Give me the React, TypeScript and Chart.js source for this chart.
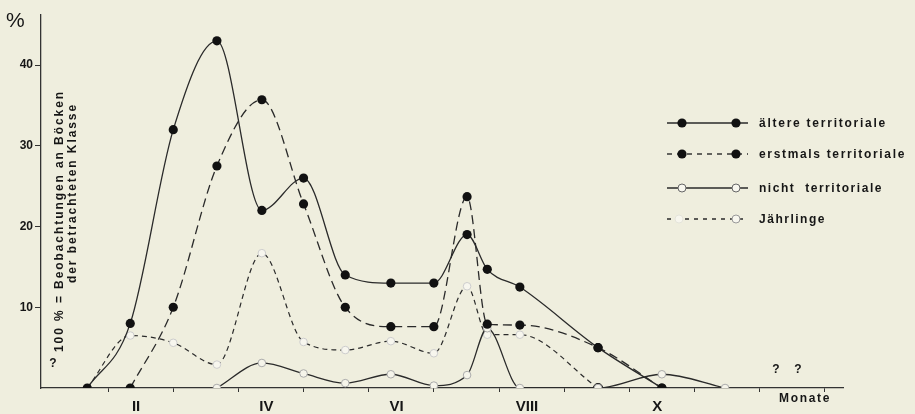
import React, { useEffect, useRef } from 'react';
import { Chart, registerables } from 'chart.js';

Chart.register(...registerables);

// ---- data ----
const xPositions = [0.68, 1.34, 2.0, 2.67, 3.36, 4.0, 4.64, 5.34, 6.0, 6.51, 6.82, 7.32, 8.52, 9.5, 10.47];
const aeltere = [0, 8, 32, 43, 22, 26, 14, 13, 13, 19, 14.7, 12.5, 5, 0, null];
const erstmals = [null, 0, 10, 27.5, 35.7, 22.8, 10, 7.6, 7.6, 23.7, 7.9, 7.8, 5, 0, null];
const nicht = [null, null, null, 0, 3.1, 1.8, 0.6, 1.7, 0.3, 1.6, 7.4, 0, 0, 1.7, 0];
const jaehrlinge = [0, 6.5, 5.6, 2.9, 16.7, 5.7, 4.7, 5.8, 4.3, 12.6, 6.6, 6.6, 0, null, null];
const jaehrlingeFilledIndex = [12];

const seriesNames = ['ältere territoriale', 'erstmals territoriale', 'nicht  territoriale', 'Jährlinge'];
const monthTickValues = [1, 3, 5, 7, 9];
const monthLabels = ['II', 'IV', 'VI', 'VIII', 'X'];
const xTickValues = [1, 2, 3, 4, 5, 6, 7, 8, 9, 10, 11, 12];
const yTickValues = [10, 20, 30, 40];
const yTitle1 = '100 % = Beobachtungen an Böcken';
const yTitle2 = 'der betrachteten Klasse';
const xTitle = 'Monate';

const FONT = "'Liberation Sans', Arial, sans-serif";
const BG = '#efeede';
const INK = '#161616';
const LINE = '#2a2a2a';

const toPoints = (ys: (number | null)[]) => xPositions.map((x, i) => ({ x, y: ys[i] }));

function fitText(ctx: CanvasRenderingContext2D, text: string, x: number, y: number, target: number) {
  (ctx as any).letterSpacing = '0px';
  const w = ctx.measureText(text).width;
  const sp = Math.max(0, (target - w) / text.length);
  (ctx as any).letterSpacing = sp + 'px';
  ctx.fillText(text, x, y);
  (ctx as any).letterSpacing = '0px';
}

const decorPlugin = {
  id: 'decor',
  afterDraw(chart: any) {
    const ctx: CanvasRenderingContext2D = chart.ctx;
    ctx.save();
    ctx.fillStyle = INK;
    ctx.textBaseline = 'middle';

    // "%" unit at top-left
    ctx.font = `21px ${FONT}`;
    ctx.textAlign = 'left';
    ctx.fillText('%', 6, 21);

    // rotated y-axis titles
    ctx.font = `bold 12px ${FONT}`;
    ctx.save();
    ctx.translate(60, 352);
    ctx.rotate(-Math.PI / 2);
    ctx.textAlign = 'left';
    fitText(ctx, yTitle1, 0, 0, 262);
    ctx.restore();
    ctx.save();
    ctx.translate(73, 283);
    ctx.rotate(-Math.PI / 2);
    ctx.textAlign = 'left';
    fitText(ctx, yTitle2, 0, 0, 180);
    ctx.restore();

    // question marks
    ctx.font = `bold 12px ${FONT}`;
    ctx.textAlign = 'center';
    ctx.fillText('?', 53, 364);
    ctx.fillText('?', 776, 370);
    ctx.fillText('?', 798, 370);

    // x title
    ctx.textAlign = 'left';
    ctx.font = `bold 12px ${FONT}`;
    fitText(ctx, xTitle, 779, 399, 52);

    // legend
    const rows = [123, 154, 188, 219];
    const widths = [128, 147, 124, 67];
    const x0 = 667, x1 = 748;
    rows.forEach((y, i) => {
      ctx.save();
      ctx.strokeStyle = LINE;
      ctx.lineWidth = 1.4;
      if (i === 1) ctx.setLineDash([5, 5]);
      if (i === 3) ctx.setLineDash([4, 5]);
      ctx.beginPath();
      ctx.moveTo(x0, y);
      ctx.lineTo(x1, y);
      ctx.stroke();
      ctx.setLineDash([]);
      const dots = i === 3 ? [679, 736] : [682, 736];
      dots.forEach((dx, k) => {
        ctx.beginPath();
        if (i < 2) {
          ctx.arc(dx, y, 4.6, 0, Math.PI * 2);
          ctx.fillStyle = '#111';
          ctx.fill();
        } else {
          ctx.arc(dx, y, 4, 0, Math.PI * 2);
          ctx.fillStyle = '#f7f6ee';
          ctx.fill();
          ctx.lineWidth = 1;
          ctx.strokeStyle = i === 2 ? '#666' : (k === 0 ? '#e4e4da' : '#999');
          ctx.stroke();
        }
      });
      ctx.restore();
      ctx.fillStyle = INK;
      ctx.font = `bold 12px ${FONT}`;
      ctx.textAlign = 'left';
      fitText(ctx, seriesNames[i], 759, y + 1, widths[i]);
    });

    ctx.restore();
  },
};

export default function App() {
  const ref = useRef<HTMLCanvasElement | null>(null);

  useEffect(() => {
    document.body.style.margin = '0';
    document.body.style.background = BG;
    if (!ref.current) return;

    const filled = { pointRadius: 4.6, pointHoverRadius: 4.6, pointBackgroundColor: '#111', pointBorderWidth: 0 };

    const chart = new Chart(ref.current, {
      type: 'line',
      data: {
        datasets: [
          {
            label: seriesNames[0],
            data: toPoints(aeltere),
            borderColor: LINE,
            borderWidth: 1.3,
            cubicInterpolationMode: 'monotone',
            ...filled,
          },
          {
            label: seriesNames[1],
            data: toPoints(erstmals),
            borderColor: LINE,
            borderWidth: 1.3,
            borderDash: [9, 5],
            cubicInterpolationMode: 'monotone',
            ...filled,
          },
          {
            label: seriesNames[2],
            data: toPoints(nicht),
            borderColor: LINE,
            borderWidth: 1.3,
            cubicInterpolationMode: 'monotone',
            pointRadius: 3.8,
            pointBackgroundColor: '#f5f4ea',
            pointBorderColor: '#aaa',
            pointBorderWidth: 1,
          },
          {
            label: seriesNames[3],
            data: toPoints(jaehrlinge),
            borderColor: LINE,
            borderWidth: 1.2,
            borderDash: [5, 4],
            cubicInterpolationMode: 'monotone',
            pointRadius: (c: any) => (jaehrlingeFilledIndex.includes(c.dataIndex) ? 4.6 : 3.8),
            pointBackgroundColor: (c: any) => (jaehrlingeFilledIndex.includes(c.dataIndex) ? '#111' : '#f7f6ee'),
            pointBorderColor: (c: any) => (jaehrlingeFilledIndex.includes(c.dataIndex) ? '#111' : '#ccc'),
            pointBorderWidth: 1,
          },
        ],
      } as any,
      options: {
        responsive: false,
        animation: false,
        devicePixelRatio: 1,
        layout: { padding: { top: 15, right: 72, left: 0, bottom: 0 } },
        plugins: { legend: { display: false }, tooltip: { enabled: false } },
        scales: {
          x: {
            type: 'linear',
            min: -0.03,
            max: 12.28,
            afterFit: (s: any) => { s.height = 26; },
            afterBuildTicks: (s: any) => { s.ticks = xTickValues.map((v) => ({ value: v })); },
            grid: { drawOnChartArea: false, drawTicks: true, tickLength: 4, color: '#333', lineWidth: 1 },
            border: { display: true, color: '#333', width: 1.3 },
            ticks: {
              autoSkip: false,
              maxRotation: 0,
              padding: 6,
              labelOffset: 28,
              color: INK,
              font: { family: FONT, size: 15, weight: 'bold' },
              callback: (v: any) => {
                const i = monthTickValues.indexOf(Number(v));
                return i >= 0 ? monthLabels[i] : '';
              },
            },
          },
          y: {
            type: 'linear',
            min: 0,
            max: 46.2,
            afterFit: (s: any) => { s.width = 41; },
            afterBuildTicks: (s: any) => { s.ticks = yTickValues.map((v) => ({ value: v })); },
            grid: { drawOnChartArea: false, drawTicks: true, tickLength: 6, color: '#333', lineWidth: 1 },
            border: { display: true, color: '#333', width: 1.3 },
            ticks: {
              padding: 2,
              color: INK,
              font: { family: FONT, size: 12, weight: 'bold' },
            },
          },
        },
      } as any,
      plugins: [decorPlugin],
    });

    return () => chart.destroy();
  }, []);

  return (
    <div style={{ width: 915, height: 414, background: BG }}>
      <canvas ref={ref} width={915} height={414} style={{ display: 'block' }} />
    </div>
  );
}
